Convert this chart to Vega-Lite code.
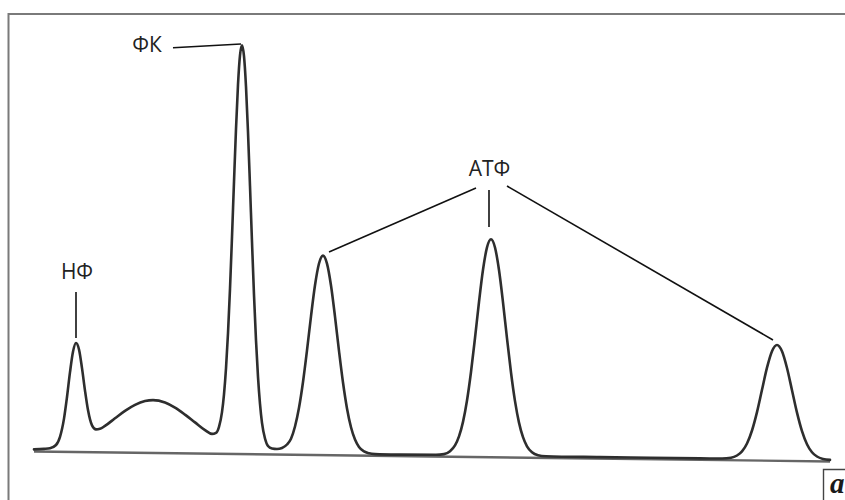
{
  "$schema": "https://vega.github.io/schema/vega-lite/v6.json",
  "width": 845,
  "height": 500,
  "autosize": {"type": "none"},
  "padding": 0,
  "background": "white",
  "config": {"view": {"stroke": null}},
  "datasets": {
    "spectrum": [
      {"x":34,"h":50.6},{"x":44,"h":51.1},{"x":50,"h":51.8},{"x":56,"h":55.0},{"x":60,"h":63.2},{"x":64,"h":81.4},{"x":67,"h":103},{"x":70,"h":127.8},{"x":73,"h":148.3},{"x":76,"h":157},{"x":79,"h":150.5},{"x":82,"h":131.9},{"x":85,"h":109.4},{"x":88,"h":89.9},{"x":92,"h":74.6},{"x":96,"h":70.6},{"x":100,"h":71.2},{"x":105,"h":74.1},{"x":115,"h":81.7},{"x":125,"h":89.1},{"x":135,"h":95.1},{"x":145,"h":98.9},{"x":153,"h":99.9},{"x":165,"h":97.5},{"x":175,"h":92.4},{"x":185,"h":85.4},{"x":195,"h":77.6},{"x":205,"h":69.9},{"x":212,"h":66.1},{"x":216,"h":67.2},{"x":219,"h":73.2},{"x":222,"h":87.9},{"x":224,"h":105.7},{"x":226,"h":131.6},{"x":228,"h":166.7},{"x":230,"h":211.1},{"x":232,"h":263.1},{"x":234,"h":318.1},{"x":236,"h":371},{"x":238,"h":415.4},{"x":240,"h":444.7},{"x":242,"h":454.7},{"x":244,"h":443.8},{"x":246,"h":413.4},{"x":248,"h":368},{"x":250,"h":314},{"x":252,"h":258},{"x":254,"h":205},{"x":256,"h":159.6},{"x":258,"h":123.1},{"x":260,"h":96.1},{"x":262,"h":77.1},{"x":265,"h":61.5},{"x":268,"h":54},{"x":272,"h":51.5},{"x":277,"h":51},{"x":282,"h":52},{"x":287,"h":55.5},{"x":291,"h":61.3},{"x":295,"h":73.5},{"x":299,"h":92.2},{"x":303,"h":118},{"x":307,"h":149.6},{"x":311,"h":183.7},{"x":315,"h":214.7},{"x":319,"h":236.5},{"x":323,"h":244.4},{"x":327,"h":236.4},{"x":331,"h":214.5},{"x":335,"h":183.4},{"x":339,"h":149.2},{"x":343,"h":117.5},{"x":347,"h":91.6},{"x":351,"h":72.8},{"x":355,"h":60.5},{"x":359,"h":53.1},{"x":364,"h":48.6},{"x":369,"h":46.7},{"x":375,"h":45.9},{"x":400,"h":45.4},{"x":436,"h":45.2},{"x":444,"h":45.9},{"x":450,"h":48.8},{"x":455,"h":54.6},{"x":459,"h":63.6},{"x":463,"h":78.1},{"x":467,"h":99.5},{"x":471,"h":128},{"x":475,"h":162},{"x":479,"h":198},{"x":483,"h":230.2},{"x":487,"h":252.6},{"x":491,"h":260.7},{"x":495,"h":252.5},{"x":499,"h":230},{"x":503,"h":197.7},{"x":507,"h":161.7},{"x":511,"h":127.5},{"x":515,"h":98.9},{"x":519,"h":77.4},{"x":523,"h":62.8},{"x":527,"h":53.7},{"x":532,"h":47.7},{"x":538,"h":44.8},{"x":546,"h":43.8},{"x":600,"h":42.9},{"x":650,"h":42.2},{"x":700,"h":41.6},{"x":722,"h":41.5},{"x":731,"h":42.2},{"x":737,"h":44.5},{"x":742,"h":48.6},{"x":747,"h":56.5},{"x":752,"h":69.5},{"x":757,"h":87.9},{"x":762,"h":110.2},{"x":767,"h":132.3},{"x":772,"h":148.8},{"x":777,"h":155},{"x":782,"h":148.7},{"x":787,"h":132},{"x":792,"h":109.8},{"x":797,"h":87.4},{"x":802,"h":68.9},{"x":807,"h":55.8},{"x":812,"h":47.7},{"x":817,"h":43.5},{"x":823,"h":41.1},{"x":830,"h":40.1}
    ],
    "baseline": [
      {"x":34,"h":48.5},{"x":830,"h":38.5}
    ],
    "leaders": [
      {"x":76,"h":208,"x2":76,"h2":162},
      {"x":173,"h":452.3,"x2":241,"h2":456},
      {"x":476,"h":312,"x2":329,"h2":248},
      {"x":489,"h":310,"x2":489,"h2":273},
      {"x":507,"h":314,"x2":773,"h2":160}
    ],
    "labels": [
      {"x":77,"h":221,"text":"НФ"},
      {"x":147,"h":448,"text":"ФК"},
      {"x":489.5,"h":324,"text":"АТФ"}
    ],
    "frame": [
      {"x":8.5,"x2":900,"h":486,"h2":-50}
    ],
    "panel": [
      {"x":823.5,"x2":900,"h":30.5,"h2":-50,"text":"a","tx":830,"th":7}
    ]
  },
  "layer": [
    {
      "data": {"name": "frame"},
      "mark": {"type": "rect", "fill": null, "fillOpacity": 0, "stroke": "#7a7a7a", "strokeWidth": 2},
      "encoding": {
        "x": {"field": "x", "type": "quantitative", "scale": {"domain": [0, 845], "nice": false, "zero": false}, "axis": null},
        "x2": {"field": "x2"},
        "y": {"field": "h", "type": "quantitative", "scale": {"domain": [0, 500], "nice": false, "zero": false}, "axis": null},
        "y2": {"field": "h2"}
      }
    },
    {
      "data": {"name": "baseline"},
      "mark": {"type": "line", "stroke": "#666666", "strokeWidth": 2.4},
      "encoding": {
        "x": {"field": "x", "type": "quantitative"},
        "y": {"field": "h", "type": "quantitative"}
      }
    },
    {
      "data": {"name": "spectrum"},
      "mark": {"type": "line", "interpolate": "monotone", "stroke": "#2e2e2e", "strokeWidth": 2.6, "strokeJoin": "round", "strokeCap": "round"},
      "encoding": {
        "x": {"field": "x", "type": "quantitative"},
        "y": {"field": "h", "type": "quantitative"}
      }
    },
    {
      "data": {"name": "leaders"},
      "mark": {"type": "rule", "stroke": "#111111", "strokeWidth": 1.6},
      "encoding": {
        "x": {"field": "x", "type": "quantitative"},
        "x2": {"field": "x2"},
        "y": {"field": "h", "type": "quantitative"},
        "y2": {"field": "h2"}
      }
    },
    {
      "data": {"name": "labels"},
      "mark": {"type": "text", "font": "Open Sans", "fontSize": 21, "align": "center", "baseline": "alphabetic", "fill": "#222222"},
      "encoding": {
        "x": {"field": "x", "type": "quantitative"},
        "y": {"field": "h", "type": "quantitative"},
        "text": {"field": "text"}
      }
    },
    {
      "data": {"name": "panel"},
      "mark": {"type": "rect", "fill": null, "fillOpacity": 0, "stroke": "#444444", "strokeWidth": 1.4},
      "encoding": {
        "x": {"field": "x", "type": "quantitative"},
        "x2": {"field": "x2"},
        "y": {"field": "h", "type": "quantitative"},
        "y2": {"field": "h2"}
      }
    },
    {
      "data": {"name": "panel"},
      "mark": {"type": "text", "font": "Liberation Serif", "fontSize": 29, "fontWeight": "bold", "fontStyle": "italic", "align": "left", "baseline": "alphabetic", "fill": "#1a1a1a"},
      "encoding": {
        "x": {"field": "tx", "type": "quantitative"},
        "y": {"field": "th", "type": "quantitative"},
        "text": {"field": "text"}
      }
    }
  ]
}
